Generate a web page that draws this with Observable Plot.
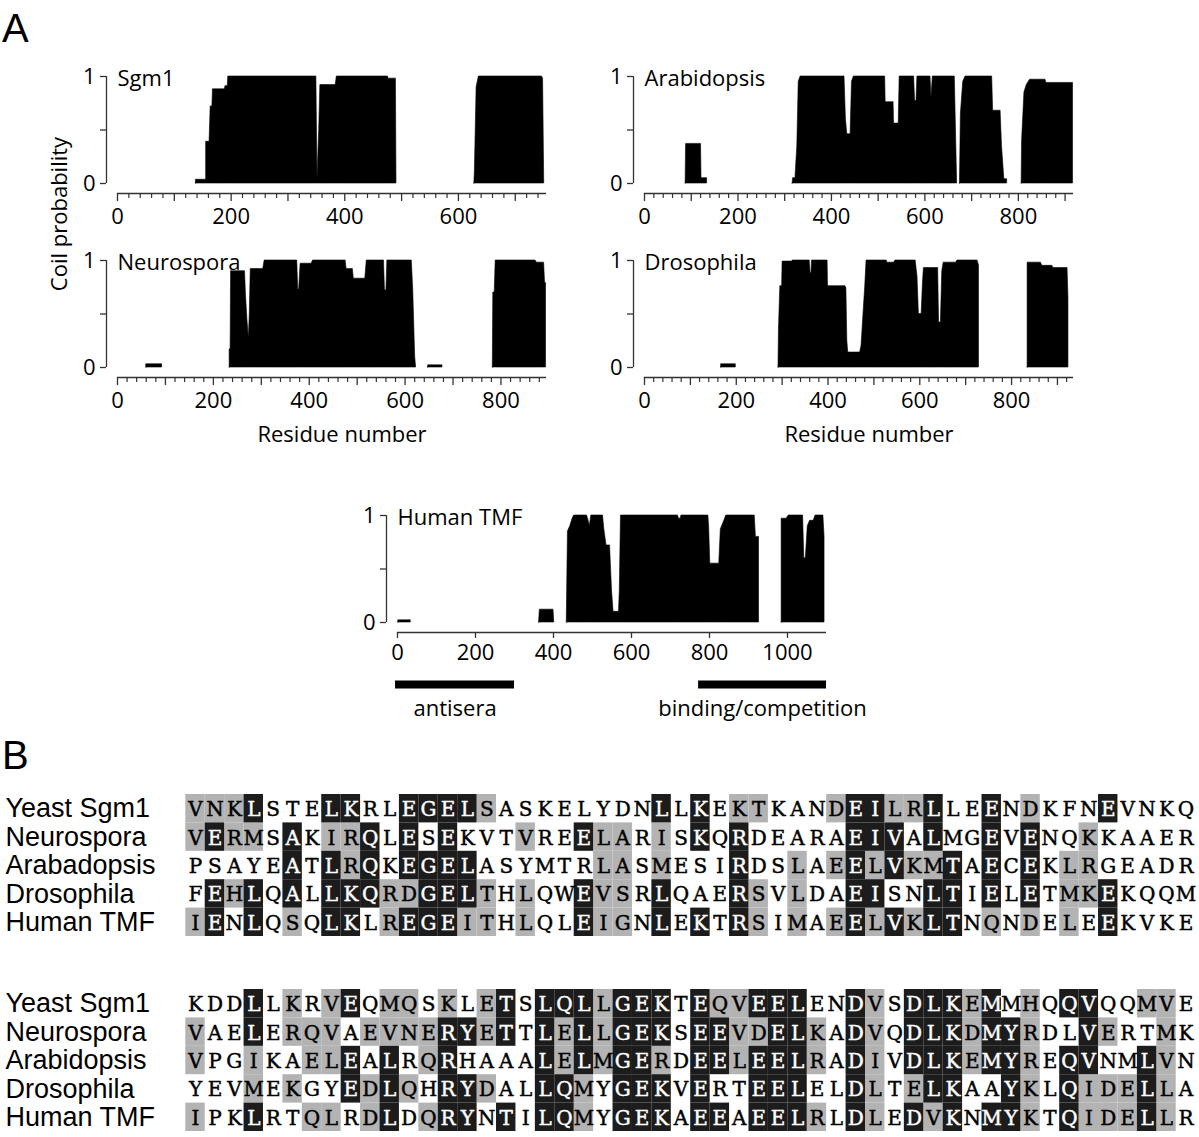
<!DOCTYPE html>
<html><head><meta charset="utf-8">
<script src="https://cdn.jsdelivr.net/npm/d3@7"></script>
<script src="https://cdn.jsdelivr.net/npm/@observablehq/plot@0.6"></script>
<style>
body{margin:0;background:#fff;}
#fig{position:relative;width:1199px;height:1137px;overflow:hidden;background:#fff;}
.big{position:absolute;font-family:"Liberation Sans",Arial,sans-serif;font-size:40px;line-height:40px;}
.ax{position:absolute;font-family:"Open Sans",sans-serif;font-size:22px;line-height:22px;white-space:nowrap;}
</style></head><body><div id="fig"></div>
<script>
// ---------- Panel A: coiled-coil probability profiles [residue, probability] ----------
const sgm1Coil = [[138,0],[138,0.035],[156,0.035],[156,0.39],[162,0.39],[164,0.72],[167,0.72],[168,0.88],[189,0.88],[190,0.91],[194,0.91],[195,1],[350,1],[352,0.05],[355,0.5],[357,0.92],[384,0.92],[386,1],[476,1],[477,0.98],[490,0.98],[491,0],[491,NaN],
  [628,0],[629,0.12],[632,0.9],[636,1],[747,1],[749,0.98],[751,0]];
const arabidopsisCoil = [[88,0],[89,0.37],[121,0.37],[122,0.05],[134,0.05],[134,0],[134,NaN],
  [317,0],[318,0.05],[323,0.05],[327,0.35],[330,0.95],[334,1],[428,1],[431,0.6],[434,0.46],[441,0.46],[444,0.95],[448,1],[515,1],[516,0.76],[533,0.76],[534,0.56],[544,0.56],[546,1],[577,1],[579,0.77],[582,0.77],[584,1],[612,1],[614,0.8],[617,1],[664,1],[667,0.4],[669,0],[669,NaN],
  [675,0],[677,0.65],[682,0.95],[687,1],[744,1],[746,0.68],[762,0.68],[765,0.35],[770,0.04],[776,0.04],[776,0],[776,NaN],
  [807,0],[808,0.4],[813,0.85],[818,0.92],[825,0.97],[858,0.97],[860,0.94],[917,0.94],[917,0]];
const neurosporaCoil = [[60,0],[60,0.03],[93,0.03],[93,0],[93,NaN],
  [234,0],[234,0.17],[236,0.17],[237,0.9],[266,0.9],[268,0.68],[271,0.45],[274,0.27],[276,0.5],[278,0.92],[304,0.92],[307,1],[375,1],[377,0.73],[379,0.73],[382,0.97],[405,0.97],[408,1],[476,1],[478,0.92],[491,0.92],[493,0.83],[517,0.83],[520,1],[556,1],[558,0.72],[561,0.72],[563,1],[614,1],[617,0.72],[621,0.1],[623,0],[623,NaN],
  [648,0],[648,0.02],[678,0.02],[678,0],[678,NaN],
  [783,0],[784,0.7],[787,0.7],[789,1],[872,1],[875,0.98],[890,0.98],[892,0.79],[894,0.79],[894,0]];
const drosophilaCoil = [[167,0],[167,0.03],[199,0.03],[199,0],[199,NaN],
  [292,0],[293,0.35],[296,0.76],[300,0.76],[301,0.99],[322,0.99],[323,1],[360,1],[362,0.88],[364,0.88],[365,1],[399,1],[400,0.76],[438,0.76],[440,0.74],[442,0.25],[444,0.14],[470,0.14],[473,0.2],[478,0.55],[481,0.75],[484,1],[528,1],[529,0.98],[544,0.98],[547,1],[591,1],[595,0.85],[598,0.5],[604,0.5],[607,0.8],[609,0.93],[640,0.93],[642,0.42],[646,0.42],[649,0.9],[652,0.98],[679,0.98],[682,1],[726,1],[729,0.95],[729,0],[729,NaN],
  [835,0],[835,0.98],[864,0.98],[867,0.95],[889,0.95],[891,0.93],[922,0.93],[924,0.65],[924,0]];
const humanCoil = [[2,0],[2,0.02],[34,0.02],[34,0],[34,NaN],
  [363,0],[365,0.12],[400,0.12],[402,0],[402,NaN],
  [434,0],[437,0.85],[443,0.9],[449,0.97],[453,1],[486,1],[490,0.95],[493,0.9],[497,1],[527,1],[530,0.88],[536,0.72],[545,0.72],[550,0.3],[554,0.1],[568,0.1],[570,0.3],[573,1],[719,1],[722,0.97],[726,0.97],[728,1],[797,1],[799,0.9],[802,0.55],[825,0.55],[829,0.87],[838,0.95],[843,1],[916,1],[919,0.8],[927,0.8],[927,0],[927,NaN],
  [985,0],[985,0.97],[998,0.97],[1003,1],[1040,1],[1043,0.6],[1047,0.6],[1052,0.9],[1058,0.95],[1067,0.95],[1072,1],[1092,1],[1095,0.8],[1095,0]];
const humanRegions = [{start: -5, end: 300, label: "antisera"}, {start: 772, end: 1100, label: "binding/competition"}];
const yTicks = [0, 0.5, 1];

// ---------- Panel B: alignment ----------
const names1 = ["Yeast Sgm1","Neurospora","Arabadopsis","Drosophila","Human TMF"];
const names2 = ["Yeast Sgm1","Neurospora","Arabidopsis","Drosophila","Human TMF"];
const seq1 = [
  "VNKLSTELKRLEGELSASKELYDNLLKEKTKANDEILRLLEENDKFNEVNKQ",
  "VERMSAKIRQLESEKVTVREELARISKQRDEARAEIVALMGEVENQKKAAER",
  "PSAYEATLRQKEGELASYMTRLASMESIRDSLAEELVKMTAECEKLRGEADR",
  "FEHLQALLKQRDGELTHLQWEVSRLQAERSVLDAEISNLTIELETMKEKQQM",
  "IENLQSQLKLREGEITHLQLEIGNLEKTRSIMAEELVKLTNQNDELEEKVKE"];
// 0 = white, 1 = grey, 2 = black
const shade1 = [
  "1112000220022221"+"0000000020201100"+"0122112002010002"+"0000",
  "1211020112020200"+"0100211010202000"+"0022202002020010"+"0000",
  "0000020212022220"+"0000011010002001"+"0121211202020110"+"0000",
  "0212020222112221"+"0100211020002101"+"0022002202020112"+"0000",
  "1202010220122211"+"0100211020202101"+"0121212201010102"+"0000"];
const seq2 = [
  "KDDLLKRVEQMQSKLETSLQLLGEKTEQVEELENDVSDLKEMMHQQVQQMVE",
  "VAELERQVAEVNERYETTLELLGEKSEEVDELKADVQDLKDMYRDLVERTMK",
  "VPGIKAELEALRQRHAAALELMGERDEELEELRADIVDLKEMYREQVNMLVN",
  "YEVMEKGYEDLQHRYDALLQMYGEKVERTEELELDLTELKAAYKLQIDELLA",
  "IPKLRTQLRDLDQRYNTILQMYGEKAEEAEELRLDLEDVKNMYKTQIDELLR"];
const shade2 = [
  "0002010120"+"1101012022"+"2122202112"+"2200210222"+"1201022001"+"10",
  "1002011101"+"1112212021"+"2122202211"+"2210210222"+"1221002100"+"10",
  "1001001120"+"2012000021"+"2122102212"+"2210210222"+"1221022002"+"10",
  "0001010021"+"2102210022"+"1022202002"+"2200210122"+"0021021112"+"10",
  "1002001101"+"2012202022"+"1022202202"+"2210210212"+"0221021112"+"10"];

const fig = document.getElementById("fig");
const AXC = "#333";
const FONT = "'Open Sans', sans-serif";
const SEQFONT = "'DejaVu Serif', serif";

function place(el, left, top) {
  el.style.position = "absolute"; el.style.left = left + "px"; el.style.top = top + "px";
  fig.appendChild(el);
}

function coilPanel(o) {
  const axisLen = 429, padLeft = 106, mt = 40;
  const width = padLeft + axisLen + 40;
  const yZero = mt + 107;
  const height = yZero + 10 + o.mb;
  const marks = [
    Plot.areaY(o.data, {x: d => d[0], y1: 0, y2: d => d[1], fill: "#000", stroke: "#000", strokeWidth: 0.6}),
    Plot.ruleX([0], {y1: 0, y2: 1, dx: -11, stroke: AXC, strokeWidth: 1.3}),
    Plot.ruleY([0], {x1: 0, x2: o.xmax, dy: 10, stroke: AXC, strokeWidth: 1.3}),
    Plot.axisY({ticks: yTicks, tickSize: 6, tickPadding: 5, tickFormat: d => d === 0.5 ? "" : String(d), stroke: AXC, fill: "#000", fontSize: 22, strokeWidth: 1.3}),
    Plot.axisX({ticks: o.major, tickSize: o.majorSize, tickPadding: o.pad, tickFormat: d => d % 200 === 0 ? String(d) : "", stroke: AXC, fill: "#000", fontSize: 22, strokeWidth: 1.3}),
    Plot.text([o.name], {x: 0, y: 1, dy: 9, text: d => d, textAnchor: "start", lineAnchor: "bottom", fontSize: 22, fill: "#000"})
  ];
  if (o.minor.length) marks.push(Plot.axisX({ticks: o.minor, tickSize: 5, tickFormat: () => "", stroke: AXC, strokeWidth: 1.2}));
  if (o.xlabel) marks.push(Plot.text([o.xlabel], {x: o.xmax / 2, y: 0, dy: 67, dx: 10, text: d => d, fontSize: 22, fill: "#000"}));
  if (o.regions) {
    marks.push(Plot.ruleY(o.regions, {x1: "start", x2: "end", y: 0, dy: 62, stroke: "#000", strokeWidth: 8}));
    marks.push(Plot.text(o.regions, {x: d => (d.start + d.end) / 2, y: 0, dy: 86, text: "label", fontSize: 22, fill: "#000"}));
  }
  const svg = Plot.plot({
    width, height, marginLeft: padLeft - 11, marginRight: width - padLeft - axisLen, marginTop: mt, marginBottom: o.mb,
    style: {fontFamily: FONT, fontSize: "22px", background: "transparent", overflow: "visible"},
    x: {domain: [0, o.xmax], range: [padLeft, padLeft + axisLen]},
    y: {domain: [0, 1], range: [yZero, mt]},
    marks
  });
  place(svg, o.x0 - padLeft, o.y1 - mt);
}

const minorOf = (max) => d3.range(20, max + 1, 20).filter(v => v % 100 !== 0);

coilPanel({data: sgm1Coil, name: "Sgm1", xmax: 755, x0: 117, y1: 76, mb: 40,
  major: d3.range(0, 701, 100), minor: minorOf(755), majorSize: 8, pad: 7});
coilPanel({data: arabidopsisCoil, name: "Arabidopsis", xmax: 918, x0: 644, y1: 76, mb: 40,
  major: d3.range(0, 901, 100), minor: minorOf(918), majorSize: 8, pad: 7});
coilPanel({data: neurosporaCoil, name: "Neurospora", xmax: 895, x0: 117, y1: 260, mb: 85,
  major: d3.range(0, 801, 100), minor: minorOf(895), majorSize: 8, pad: 7, xlabel: "Residue number"});
coilPanel({data: drosophilaCoil, name: "Drosophila", xmax: 935, x0: 644, y1: 260, mb: 85,
  major: d3.range(0, 901, 100), minor: minorOf(935), majorSize: 8, pad: 7, xlabel: "Residue number"});
coilPanel({data: humanCoil, name: "Human TMF", xmax: 1100, x0: 397, y1: 515, mb: 105,
  major: d3.range(0, 1001, 200), minor: [], majorSize: 6, pad: 6, regions: humanRegions});

// shared y label and panel letters
const yl = document.createElement("div"); yl.className = "ax"; yl.textContent = "Coil probability";
yl.style.transform = "translate(-50%,-50%) rotate(-90deg)"; place(yl, 58, 214);
const la = document.createElement("div"); la.className = "big"; la.textContent = "A"; place(la, 2, 8);
const lb = document.createElement("div"); lb.className = "big"; lb.textContent = "B"; place(lb, 2, 735);

function alignBlock(names, seqs, shades, top) {
  const cells = [];
  names.forEach((n, r) => {
    for (let c = 0; c < seqs[r].length; c++) cells.push({row: r, col: c, aa: seqs[r][c], shade: +shades[r][c]});
  });
  const pitch = 19.42, x0 = 185.3, rowH = 28.4;
  const letter = {x: "col", y: "row", text: "aa", fontFamily: SEQFONT, fontSize: 20, dy: 1, strokeWidth: 0.45};
  const svg = Plot.plot({
    width: 1199, height: Math.round(rowH * 5) + 2, marginLeft: 185, marginRight: 0, marginTop: 1, marginBottom: 1,
    style: {background: "transparent", overflow: "visible"},
    x: {type: "band", domain: d3.range(52), range: [x0, x0 + 52 * pitch], padding: 0, round: false, axis: null},
    y: {type: "band", domain: d3.range(5), range: [1, 1 + 5 * rowH], padding: 0, round: false, axis: null},
    marks: [
      Plot.cell(cells.filter(d => d.shade === 1), {x: "col", y: "row", fill: "#b3b3b3", inset: 0}),
      Plot.cell(cells.filter(d => d.shade === 2), {x: "col", y: "row", fill: "#1c1c1c", inset: 0}),
      Plot.text(cells.filter(d => d.shade !== 2), {...letter, fill: "#000", stroke: "#000"}),
      Plot.text(cells.filter(d => d.shade === 2), {...letter, fill: "#fff", stroke: "#fff"}),
      Plot.text(names, {y: (d, i) => i, text: d => d, frameAnchor: "left", textAnchor: "start", dx: -180, fontFamily: "'Liberation Sans', Arial, sans-serif", fontSize: 27, fill: "#000"})
    ]
  });
  place(svg, 0, top);
}
alignBlock(names1, seq1, shade1, 793);
alignBlock(names2, seq2, shade2, 988);
</script></body></html>
